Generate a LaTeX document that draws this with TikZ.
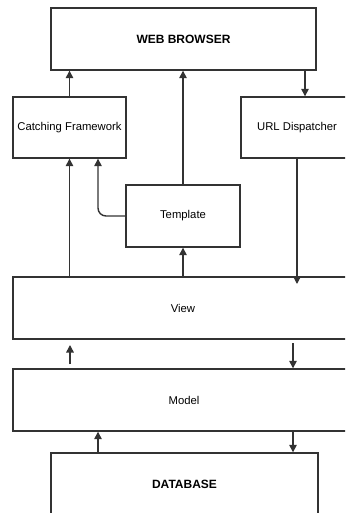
\documentclass[tikz,border=0pt]{standalone}
\usepackage{fontspec}
\setmainfont{Liberation Sans}
\usetikzlibrary{arrows.meta}
\definecolor{ln}{HTML}{333333}
\tikzset{
  box/.style={draw=ln, line width=1.4pt, rectangle, inner sep=0pt, font=\fontsize{11.3}{13}\selectfont},
  bbox/.style={box, font=\fontsize{12}{14}\selectfont\bfseries},
  arr/.style={draw=ln, line width=1.4pt, -{Triangle[width=7.5pt,length=7.5pt]}},
}
\begin{document}
\begin{tikzpicture}[x=1pt,y=-1pt]
\path[use as bounding box, clip] (0,0) rectangle (345,513);
\fill[white] (0,0) rectangle (345,513);
% boxes
\node[bbox, minimum width=265pt, minimum height=62pt] (wb) at (183.5,39) {WEB BROWSER};
\node[box, minimum width=113pt, minimum height=61pt] (cf) at (69.5,127.5) {Catching Framework};
\node[box, minimum width=112pt, minimum height=61pt] (ud) at (297,127.5) {URL Dispatcher};
\node[box, minimum width=114pt, minimum height=62pt] (tp) at (183,216) {Template};
\node[box, minimum width=340pt, minimum height=62pt] (vw) at (183,308) {View};
\node[box, minimum width=342pt, minimum height=62pt] (md) at (184,400) {Model};
\node[bbox, minimum width=267pt, minimum height=62pt] (db) at (184.5,484) {DATABASE};
% helper coordinates
\coordinate (x305) at (305,0);
\coordinate (x98) at (98,0);
\coordinate (x293) at (293,0);
\coordinate (vtip) at (297,284);
\coordinate (ua) at (70,364);
\coordinate (ub) at (70,345);
\coordinate (da) at (293,343);
% connectors
\draw[arr] (cf.north) -- (cf.north |- wb.south);
\draw[arr] (tp.north) -- (tp.north |- wb.south);
\draw[arr] (wb.south -| x305) -- (ud.north -| x305);
\draw[arr, rounded corners=8pt] (tp.west) -| (cf.south -| x98);
\draw[arr] (vw.north -| cf.south) -- (cf.south);
\draw[arr] (vw.north -| tp.south) -- (tp.south);
\draw[arr] (ud.south) -- (vtip);
\draw[arr] (ua) -- (ub);
\draw[arr] (da) -- (md.north -| da);
\draw[arr] (db.north -| x98) -- (md.south -| x98);
\draw[arr] (md.south -| x293) -- (db.north -| x293);
\end{tikzpicture}
\end{document}
